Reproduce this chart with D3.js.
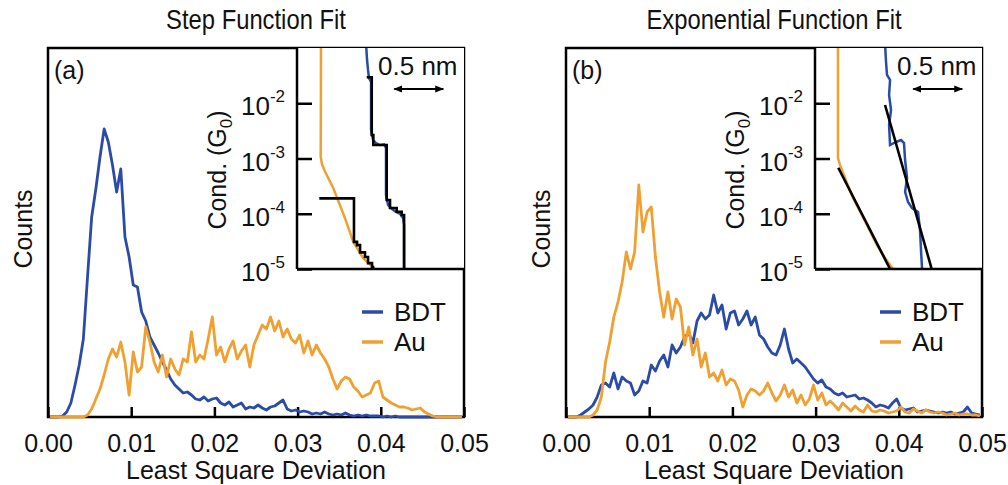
<!DOCTYPE html>
<html><head><meta charset="utf-8">
<script src="https://cdn.jsdelivr.net/npm/d3@7"></script>
<style>
html,body{margin:0;padding:0;background:#fff;}
svg{display:block;}
text{font-family:"Liberation Sans", Arial, Helvetica, sans-serif; fill:#111;}
</style></head><body>
<svg id="chart" width="1008" height="485"></svg>
<script>
// ---------------- data ----------------
const binWidth = 0.0005;           // Least Square Deviation bin width
const xTicks = [0, 0.01, 0.02, 0.03, 0.04, 0.05];
const seriesNames = ["BDT", "Au"];
const titles = ["Step Function Fit", "Exponential Function Fit"];
const panelTags = ["(a)", "(b)"];

// (a) step function fit histograms (counts, arbitrary units)
const bdtStep = [0,0,0,1,5,14,32,52,78,140,
  200,228,260,288,275,252,225,248,180,160,
  132,130,105,96,80,72,64,55,47,38,
  32,28,24,25,22,18,17,20,16,18,
  19,14,12,15,10,12,14,8,10,9,
  12,9,7,10,11,14,17,8,6,7,
  5,6,5,3,4,3,5,3,2,3,
  2,4,2,1,2,1,2,1,1,1,
  0,1,0,1,0,0,0,0,0,0,
  0,0,0,0,0,0,0,0,0,0];
const auStep = [0,0,0,0,0,0,0,0,0,2,
  8,18,28,42,58,68,60,75,55,22,
  65,45,50,90,75,55,45,62,40,58,
  48,42,58,55,85,55,62,58,78,100,
  62,70,55,68,76,58,66,72,50,72,
  82,92,88,100,86,96,80,88,78,74,
  82,64,76,62,72,64,58,50,38,28,
  36,40,38,30,26,20,22,24,34,36,
  20,17,14,12,10,10,9,7,8,9,
  5,3,1,0,0,0,0,0,0,0];
// (b) exponential function fit histograms
const bdtExp = [0,0,0,2,5,8,12,20,32,34,
  30,44,28,40,36,34,22,26,36,34,
  52,46,56,62,50,72,64,70,80,84,
  74,96,104,98,102,122,104,112,88,104,
  106,92,98,106,92,100,82,78,70,64,
  62,72,88,68,54,58,54,50,44,38,
  34,37,30,28,24,22,24,20,21,22,
  18,19,17,14,10,12,11,9,14,18,
  9,7,8,9,5,6,7,6,5,4,
  5,4,5,3,4,5,10,4,3,2];
const auExp = [0,0,0,0,0,0,2,7,20,55,
  75,100,115,135,165,148,165,232,185,205,
  210,160,125,100,125,98,118,110,72,90,
  62,78,50,64,40,44,36,47,32,38,
  36,27,10,22,28,26,22,26,34,24,
  16,22,32,20,27,14,22,12,18,32,
  17,24,12,16,12,7,14,10,6,11,
  7,5,12,6,5,7,6,4,5,6,
  10,5,4,8,6,4,7,5,4,5,
  4,2,3,4,2,3,3,2,2,1];

// insets: conductance traces (distance in nm, conductance in G0)
const insetTicks = [1e-2, 1e-3, 1e-4, 1e-5];
const insetTickExp = ["-2", "-3", "-4", "-5"];
const scaleBarNm = 0.5;

const auTraceA_x = [0.244, 0.243, 0.241, 0.255, 0.285, 0.370, 0.489, 0.573, 0.675, 0.794, 0.83];
const auTraceA_g = [0.12, 0.01, 1.08e-3, 7.8e-4, 5.8e-4, 2.9e-4, 8.3e-5, 3.1e-5, 1.56e-5, 1.0e-5, 8e-6];
const auFitA_x = [0.227, 0.58, 0.611, 0.642, 0.692, 0.723, 0.764, 0.774];
const auFitA_g = [1.9e-4, 3.1e-5, 2.7e-5, 2.0e-5, 1.65e-5, 1.28e-5, 1.09e-5, 8e-6];
const bdtTraceA_x = [0.703, 0.713, 0.723, 0.733, 0.754, 0.754, 0.774, 0.804, 0.845, 0.886, 0.906, 0.906, 0.927, 0.967, 1.008, 1.049, 1.079, 1.090, 1.090];
const bdtTraceA_g = [0.12, 0.0607, 0.04, 0.0286, 0.0243, 3.28e-3, 2.16e-3, 1.9e-3, 1.75e-3, 1.8e-3, 1.55e-3, 2.19e-4, 1.44e-4, 1.22e-4, 1.08e-4, 1.0e-4, 8.4e-5, 6.3e-5, 8e-6];
const bdtFitA_x = [0.71, 0.761, 0.777, 0.913, 0.947, 1.015, 1.066, 1.09];
const bdtFitA_g = [0.0295, 2.66e-3, 1.75e-3, 1.77e-4, 1.27e-4, 1.09e-4, 9.5e-5, 8e-6];

const auTraceB_x = [0.234, 0.234, 0.255, 0.305, 0.387, 0.529, 0.631, 0.713, 0.794, 0.83];
const auTraceB_g = [0.12, 1.02e-3, 7.6e-4, 4.43e-4, 1.93e-4, 6.25e-5, 2.7e-5, 1.58e-5, 1e-5, 8e-6];
const auFitB_x = [0.237, 0.764];
const auFitB_g = [6.8e-4, 1e-5];
const bdtTraceB_x = [0.713, 0.723, 0.733, 0.764, 0.754, 0.774, 0.754, 0.764, 0.825, 0.876, 0.906, 0.917, 0.937, 0.917, 0.947, 0.988, 1.049, 1.069, 1.079, 1.090, 1.090];
const bdtTraceB_g = [0.12, 0.0558, 0.0325, 0.0264, 0.0141, 7.55e-3, 4.04e-3, 1.75e-3, 1.99e-3, 2.16e-3, 1.9e-3, 9.4e-4, 4.44e-4, 2.48e-4, 1.63e-4, 1.27e-4, 1.08e-4, 5.08e-5, 2.21e-5, 1e-5, 8e-6];
const bdtFitB_x = [0.713, 1.188];
const bdtFitB_g = [9.3e-3, 1e-5];

// ---------------- drawing ----------------
const BLUE = "#2a4ba6", ORANGE = "#f0a030";
const svg = d3.select("#chart");
const defs = svg.append("defs");
defs.append("marker").attr("id", "arrow").attr("viewBox", "0 0 10 10")
  .attr("refX", 9).attr("refY", 5).attr("markerWidth", 5).attr("markerHeight", 5)
  .attr("markerUnits", "strokeWidth").attr("orient", "auto-start-reverse")
  .append("path").attr("d", "M0,1 L10,5 L0,9 Z").attr("fill", "#000");

const panels = [
  { left: 48, hist: [bdtStep, auStep], kind: "step",
    au: [auTraceA_x, auTraceA_g], auFit: [auFitA_x, auFitA_g],
    bdt: [bdtTraceA_x, bdtTraceA_g], bdtFit: [bdtFitA_x, bdtFitA_g], bar: 0.99 },
  { left: 566, hist: [bdtExp, auExp], kind: "exp",
    au: [auTraceB_x, auTraceB_g], auFit: [auFitB_x, auFitB_g],
    bdt: [bdtTraceB_x, bdtTraceB_g], bdtFit: [bdtFitB_x, bdtFitB_g], bar: 1.0 }
];

const TOP = 48, BOTTOM = 417, PW = 416;
const FS = 25;

panels.forEach((p, pi) => {
  const g = svg.append("g");
  const L = p.left, R = L + PW;
  const x = d3.scaleLinear().domain([0, 0.05]).range([L, R]);
  const y = d3.scaleLinear().domain([0, 369]).range([BOTTOM, TOP]);

  // title (narrow sans)
  g.append("text").attr("transform", `translate(${(L + R) / 2},29) scale(0.85,1)`)
    .attr("text-anchor", "middle").style("font-size", "28px").text(titles[pi]);

  // frame
  g.append("rect").attr("x", L).attr("y", TOP).attr("width", PW).attr("height", BOTTOM - TOP)
    .attr("fill", "#fff").attr("stroke", "#000").attr("stroke-width", 2.5);

  // x axis
  const ax = g.append("g").attr("transform", `translate(0,${BOTTOM})`)
    .call(d3.axisBottom(x).tickValues(xTicks).tickSize(-10).tickPadding(17).tickFormat(d3.format(".2f")));
  ax.select(".domain").remove();
  ax.selectAll(".tick line").attr("stroke", "#000").attr("stroke-width", 2.5);
  ax.selectAll(".tick text").style("font-size", FS + "px").style("font-family", "Liberation Sans, Arial, sans-serif").attr("fill", "#111");

  g.append("text").attr("x", (L + R) / 2).attr("y", 479).attr("text-anchor", "middle")
    .style("font-size", FS + "px").text("Least Square Deviation");
  g.append("text").attr("transform", `translate(${L - 16},229) rotate(-90)`).attr("text-anchor", "middle")
    .style("font-size", FS + "px").text("Counts");

  // histograms
  const line = d3.line().x((d, i) => x(binWidth * (i + 0.5))).y(d => y(d));
  g.append("path").attr("d", line(p.hist[0])).attr("fill", "none").attr("stroke", BLUE)
    .attr("stroke-width", 2.8).attr("stroke-linejoin", "round");
  g.append("path").attr("d", line(p.hist[1])).attr("fill", "none").attr("stroke", ORANGE)
    .attr("stroke-width", 2.8).attr("stroke-linejoin", "round");

  g.append("text").attr("x", L + 6).attr("y", 79).style("font-size", FS + "px").text(panelTags[pi]);

  // legend
  [[BLUE, 312], [ORANGE, 342]].forEach((c, k) => {
    g.append("line").attr("x1", L + 314).attr("x2", L + 335).attr("y1", c[1]).attr("y2", c[1])
      .attr("stroke", c[0]).attr("stroke-width", 3.5);
    g.append("text").attr("x", L + 346).attr("y", c[1] + 9).style("font-size", "26px").text(seriesNames[k]);
  });

  // inset
  const IL = L + 249, IR = R, IB = 269;
  const ix = d3.scaleLinear().domain([0, 1.7]).range([IL, IL + 167]);
  const iy = d3.scaleLog().domain([1e-5, 1e-1]).range([IB, TOP]);
  const cid = "clip" + pi;
  defs.append("clipPath").attr("id", cid).append("rect")
    .attr("x", IL).attr("y", TOP).attr("width", IR - IL).attr("height", IB - TOP);
  g.append("rect").attr("x", IL).attr("y", TOP).attr("width", IR - IL).attr("height", IB - TOP).attr("fill", "#fff");

  const tl = d3.line().x(d => ix(d[0])).y(d => iy(d[1]));
  const zip = a => a[0].map((v, i) => [v, a[1][i]]);
  const cg = g.append("g").attr("clip-path", `url(#${cid})`);
  cg.append("path").attr("d", tl(zip(p.au))).attr("fill", "none").attr("stroke", ORANGE).attr("stroke-width", 2.5);
  cg.append("path").attr("d", tl(zip(p.bdt))).attr("fill", "none").attr("stroke", BLUE).attr("stroke-width", 2.5);
  const fl = p.kind === "step" ? d3.line().curve(d3.curveStepAfter).x(d => ix(d[0])).y(d => iy(d[1])) : tl;
  cg.append("path").attr("d", fl(zip(p.auFit))).attr("fill", "none").attr("stroke", "#000").attr("stroke-width", 2.6);
  cg.append("path").attr("d", fl(zip(p.bdtFit))).attr("fill", "none").attr("stroke", "#000").attr("stroke-width", 2.6);

  // inset axes
  g.append("line").attr("x1", IL).attr("x2", IL).attr("y1", TOP).attr("y2", IB).attr("stroke", "#000").attr("stroke-width", 2.5);
  g.append("line").attr("x1", IL).attr("x2", IR).attr("y1", IB).attr("y2", IB).attr("stroke", "#000").attr("stroke-width", 2.5);
  const ay = g.append("g").attr("transform", `translate(${IL},0)`)
    .call(d3.axisLeft(iy).tickValues(insetTicks).tickSize(-15).tickFormat(""));
  ay.select(".domain").remove();
  ay.selectAll(".tick line").attr("stroke", "#000").attr("stroke-width", 2.5);
  insetTicks.forEach((t, k) => {
    const tx = g.append("text").attr("x", IL - 12).attr("y", iy(t) + 12).attr("text-anchor", "end")
      .style("font-size", "26px");
    tx.append("tspan").text("10");
    tx.append("tspan").attr("dy", -13).style("font-size", "17px").text(insetTickExp[k]);
  });
  const cl = g.append("text").attr("transform", `translate(${IL - 71},170) rotate(-90)`)
    .attr("text-anchor", "middle").style("font-size", FS + "px");
  cl.append("tspan").text("Cond. (G");
  cl.append("tspan").attr("dy", 6).style("font-size", "17px").text("0");
  cl.append("tspan").attr("dy", -6).text(")");

  // scale bar
  g.append("line").attr("x1", ix(p.bar)).attr("x2", ix(p.bar + scaleBarNm)).attr("y1", 89).attr("y2", 89)
    .attr("stroke", "#000").attr("stroke-width", 1.8)
    .attr("marker-start", "url(#arrow)").attr("marker-end", "url(#arrow)");
  g.append("text").attr("x", ix(p.bar + scaleBarNm / 2) - 1).attr("y", 75).attr("text-anchor", "middle")
    .style("font-size", "26px").text("0.5 nm");
});
</script>
</body></html>
